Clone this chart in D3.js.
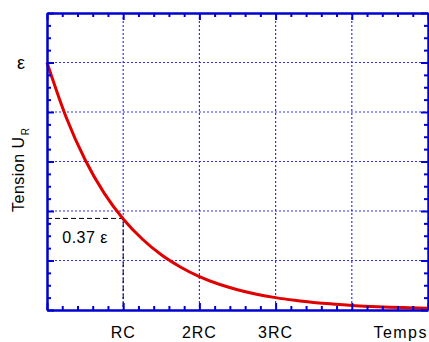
<!DOCTYPE html>
<html>
<head>
<meta charset="utf-8">
<script src="https://cdn.jsdelivr.net/npm/d3@7"></script>
<style>
  body { margin: 0; background: #fff; }
  text { font-family: "Liberation Sans", Arial, sans-serif; }
</style>
</head>
<body>
<script>
// time in units of RC, voltage in units of epsilon
const timeValues = [0, 0.25, 0.5, 0.75, 1, 1.25, 1.5, 1.75, 2, 2.25, 2.5, 2.75, 3, 3.25, 3.5, 3.75, 4, 4.25, 4.5, 4.75, 5];
const tensionValues = [1, 0.78, 0.607, 0.472, 0.368, 0.287, 0.223, 0.174, 0.135, 0.105, 0.082, 0.064, 0.05, 0.039, 0.03, 0.024, 0.018, 0.014, 0.011, 0.009, 0.007];
const xTickLabels = ["RC", "2RC", "3RC"];
const xTickValues = [1, 2, 3];
const markerTime = 1;
const markerValue = 0.37;

const width = 429, height = 342;
const margin = { left: 47, right: 1, top: 13, bottom: 32 };
const chartWidth = width - margin.left - margin.right;
const chartHeight = height - margin.top - margin.bottom;

const svg = d3.select("body")
    .append("svg")
    .attr("width", width)
    .attr("height", height);

const g = svg.append("g")
    .attr("transform", "translate(" + margin.left + "," + margin.top + ")");

const xScale = d3.scaleLinear().domain([0, 5]).range([0, chartWidth]);
const yScale = d3.scaleLinear().domain([0, 1.2]).range([chartHeight, 0]);

const blue = "#0000d0";

// grid lines
const gridX = [1, 2, 3, 4];
const gridY = [0.2, 0.4, 0.6, 0.8, 1.0];
g.append("g").selectAll("line")
    .data(gridX).enter().append("line")
    .attr("x1", d => xScale(d)).attr("x2", d => xScale(d))
    .attr("y1", 0).attr("y2", chartHeight)
    .attr("stroke", "#3030ff").attr("stroke-width", 1.2)
    .attr("stroke-dasharray", "2,2");
g.append("g").selectAll("line")
    .data(gridY).enter().append("line")
    .attr("y1", d => yScale(d)).attr("y2", d => yScale(d))
    .attr("x1", 0).attr("x2", chartWidth)
    .attr("stroke", "#3030ff").attr("stroke-width", 1.2)
    .attr("stroke-dasharray", "2,2");

// dashed marker at t = RC
g.append("path")
    .attr("d", "M0," + yScale(markerValue) + "H" + xScale(markerTime) + "V" + chartHeight)
    .attr("fill", "none")
    .attr("stroke", "#000")
    .attr("stroke-width", 1)
    .attr("stroke-dasharray", "5,3");

// curve
const line = d3.line()
    .x((d, i) => xScale(timeValues[i]))
    .y(d => yScale(d))
    .curve(d3.curveMonotoneX);
g.append("path")
    .datum(tensionValues)
    .attr("d", line)
    .attr("fill", "none")
    .attr("stroke", "#e00000")
    .attr("stroke-width", 3);

// axes with inward ticks on all four sides
const xMinor = d3.range(0, 5.001, 0.2);
const yMinor = d3.range(0, 1.2001, 0.05);
const isMajor = (v, step) => Math.abs(v / step - Math.round(v / step)) < 1e-6;

function addAxis(axis, transform) {
  const a = g.append("g").attr("transform", transform).call(axis);
  a.selectAll("text").remove();
  a.select(".domain").attr("stroke", blue).attr("stroke-width", 2.5);
  a.selectAll(".tick line").attr("stroke", blue).attr("stroke-width", 2);
  return a;
}

addAxis(d3.axisBottom(xScale).tickValues(xMinor).tickSizeOuter(0)
    .tickSizeInner(-4), "translate(0," + chartHeight + ")")
  .selectAll(".tick line").attr("y2", d => isMajor(d, 1) ? -7 : -4);
addAxis(d3.axisTop(xScale).tickValues(xMinor).tickSizeOuter(0)
    .tickSizeInner(-4), "translate(0,0)")
  .selectAll(".tick line").attr("y2", d => isMajor(d, 1) ? 7 : 4);
addAxis(d3.axisLeft(yScale).tickValues(yMinor).tickSizeOuter(0)
    .tickSizeInner(-4), "translate(0,0)")
  .selectAll(".tick line").attr("x2", d => isMajor(d, 0.2) ? 7 : 4);
addAxis(d3.axisRight(yScale).tickValues(yMinor).tickSizeOuter(0)
    .tickSizeInner(-4), "translate(" + chartWidth + ",0)")
  .selectAll(".tick line").attr("x2", d => isMajor(d, 0.2) ? -7 : -4);

// x tick labels
g.append("g").selectAll("text")
    .data(xTickValues).enter().append("text")
    .attr("x", d => xScale(d))
    .attr("y", chartHeight + 28)
    .attr("text-anchor", "middle")
    .attr("font-size", 16)
    .attr("letter-spacing", 1)
    .text((d, i) => xTickLabels[i]);

g.append("text")
    .attr("x", chartWidth)
    .attr("y", chartHeight + 28)
    .attr("text-anchor", "end")
    .attr("font-size", 16)
    .attr("letter-spacing", 1.5)
    .text("Temps");

// epsilon label
g.append("text")
    .attr("x", -26)
    .attr("y", yScale(1) + 6)
    .attr("text-anchor", "middle")
    .attr("font-size", 18)
    .text("ε");

// 0.37 ε label
g.append("text")
    .attr("x", xScale(0.2))
    .attr("y", yScale(markerValue) + 25)
    .attr("font-size", 16)
    .attr("letter-spacing", 0.5)
    .text("0.37 ε");

// y axis title
const yTitle = svg.append("text")
    .attr("transform", "translate(24,212) rotate(-90)")
    .attr("font-size", 16)
    .attr("letter-spacing", 0.5);
yTitle.append("tspan").text("Tension U");
yTitle.append("tspan").attr("font-size", 10).attr("dy", 5).attr("dx", 1).text("R");
</script>
</body>
</html>
